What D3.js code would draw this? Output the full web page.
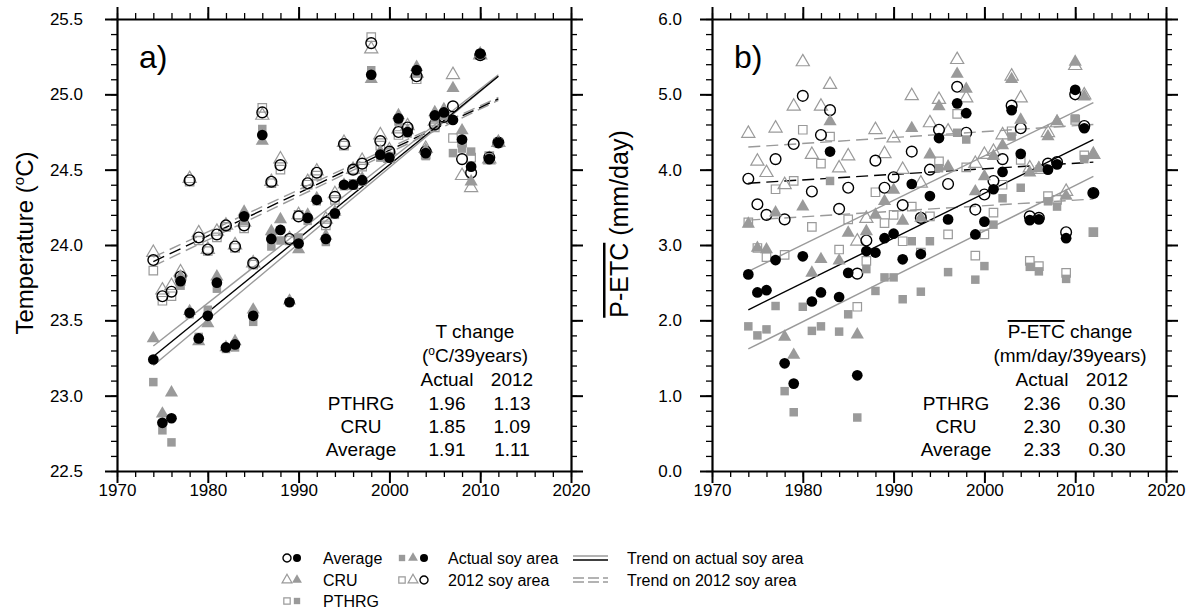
<!DOCTYPE html>
<html>
<head>
<meta charset="utf-8">
<script src="https://cdn.jsdelivr.net/npm/d3@7"></script>
<style>
  body { margin: 0; background: #fff; }
  svg text { font-family: "Liberation Sans", Arial, Helvetica, sans-serif; fill: #000; }
</style>
</head>
<body>
<div id="chart"></div>
<script>
// Jahre 1974-2012
const years = [1974, 1975, 1976, 1977, 1978, 1979, 1980, 1981, 1982, 1983, 1984, 1985, 1986,
  1987, 1988, 1989, 1990, 1991, 1992, 1993, 1994, 1995, 1996, 1997, 1998, 1999,
  2000, 2001, 2002, 2003, 2004, 2005, 2006, 2007, 2008, 2009, 2010, 2011, 2012];

// a) Temperatur (°C)
const tAvgActual = [23.24, 22.82, 22.85, 23.76, 23.55, 23.38, 23.53, 23.75, 23.32, 23.34, 24.19, 23.53, 24.73,
  24.04, 24.10, 23.62, 24.01, 24.18, 24.30, 24.04, 24.21, 24.40, 24.40, 24.43, 25.13, 24.60,
  24.58, 24.84, 24.75, 25.16, 24.61, 24.86, 24.88, 24.83, 24.70, 24.52, 25.27, 24.57, 24.68];
const tAvg2012 = [23.90, 23.66, 23.69, 23.79, 24.43, 24.05, 23.97, 24.07, 24.13, 23.99, 24.13, 23.88, 24.88,
  24.42, 24.53, 24.04, 24.19, 24.41, 24.48, 24.15, 24.32, 24.67, 24.50, 24.54, 25.34, 24.69,
  24.62, 24.75, 24.78, 25.12, 24.62, 24.80, 24.85, 24.92, 24.57, 24.48, 25.26, 24.58, 24.68];
const tCruActual = [23.38, 22.88, 23.02, 23.79, 23.56, 23.36, 23.48, 23.79, 23.32, 23.36, 24.22, 23.57, 24.69,
  24.09, 24.17, 23.63, 23.97, 24.20, 24.31, 24.06, 24.22, 24.40, 24.39, 24.44, 25.10, 24.62,
  24.57, 24.86, 24.76, 25.18, 24.63, 24.88, 24.90, 25.04, 24.76, 24.42, 25.27, 24.56, 24.68];
const tCru2012 = [23.95, 23.70, 23.73, 23.82, 24.44, 24.08, 23.97, 24.09, 24.13, 24.00, 24.15, 23.88, 24.86,
  24.42, 24.57, 24.04, 24.20, 24.42, 24.49, 24.17, 24.34, 24.68, 24.50, 24.56, 25.30, 24.73,
  24.63, 24.77, 24.79, 25.14, 24.64, 24.82, 24.86, 25.13, 24.46, 24.38, 25.26, 24.57, 24.68];
const tPtActual = [23.09, 22.77, 22.69, 23.73, 23.54, 23.39, 23.57, 23.71, 23.31, 23.32, 24.16, 23.49, 24.77,
  23.99, 24.03, 23.62, 24.05, 24.16, 24.29, 24.02, 24.20, 24.39, 24.41, 24.42, 25.16, 24.58,
  24.59, 24.82, 24.74, 25.14, 24.59, 24.84, 24.86, 24.61, 24.64, 24.62, 25.27, 24.58, 24.68];
const tPt2012 = [23.83, 23.63, 23.66, 23.76, 24.42, 24.03, 23.96, 24.05, 24.12, 23.98, 24.11, 23.87, 24.91,
  24.41, 24.50, 24.03, 24.20, 24.40, 24.46, 24.13, 24.30, 24.66, 24.50, 24.52, 25.38, 24.66,
  24.61, 24.73, 24.77, 25.10, 24.60, 24.78, 24.84, 24.71, 24.68, 24.58, 25.26, 24.59, 24.68];

// b) P-ETC (mm/day)
const pAvgActual = [2.61, 2.37, 2.40, 2.80, 1.43, 1.16, 2.85, 2.25, 2.37, 4.24, 2.31, 2.63, 1.27,
  2.92, 2.90, 3.09, 3.15, 2.81, 3.81, 2.88, 3.65, 4.42, 3.34, 4.88, 4.75, 3.14,
  3.31, 3.74, 3.97, 4.79, 4.21, 3.33, 3.34, 4.00, 4.07, 3.09, 5.06, 4.55, 3.69];
const pAvg2012 = [3.88, 3.54, 3.40, 4.14, 3.34, 4.34, 4.98, 3.71, 4.46, 4.79, 3.48, 3.76, 2.62,
  3.06, 4.12, 3.76, 3.90, 3.53, 4.24, 3.36, 4.00, 4.53, 3.81, 5.10, 4.49, 3.47,
  3.67, 3.85, 4.14, 4.85, 4.55, 3.38, 3.36, 4.08, 4.10, 3.17, 5.00, 4.58, 3.69];
const pCruActual = [3.28, 2.96, 2.94, 3.43, 1.78, 1.54, 3.51, 2.63, 2.81, 4.64, 2.79, 3.16, 1.81,
  3.18, 3.40, 3.58, 3.73, 3.32, 4.55, 3.36, 4.20, 4.84, 4.04, 5.27, 5.07, 3.71,
  3.91, 4.18, 4.32, 5.20, 4.66, 3.96, 4.02, 4.44, 4.64, 3.65, 5.43, 4.97, 4.20];
const pCru2012 = [4.48, 4.11, 3.96, 4.55, 3.80, 4.84, 5.43, 4.20, 4.84, 5.13, 4.02, 4.18, 3.05,
  3.35, 4.53, 4.21, 4.42, 4.00, 4.98, 3.82, 4.62, 4.93, 4.51, 5.46, 4.95, 4.08,
  4.20, 4.24, 4.46, 5.24, 4.95, 4.02, 4.00, 4.49, 4.62, 3.71, 5.38, 4.99, 4.20];
const pPtActual = [1.92, 1.80, 1.88, 2.19, 1.06, 0.78, 2.18, 1.86, 1.92, 3.85, 1.85, 2.08, 0.71,
  2.68, 2.39, 2.57, 2.57, 2.28, 3.05, 2.38, 3.05, 4.02, 2.64, 4.49, 4.40, 2.54,
  2.72, 3.27, 3.62, 4.44, 3.76, 2.71, 2.65, 3.58, 3.51, 2.55, 4.68, 4.14, 3.17];
const pPt2012 = [3.30, 2.96, 2.84, 3.74, 2.87, 3.85, 4.53, 3.24, 4.08, 4.44, 2.94, 3.34, 2.18,
  2.79, 3.70, 3.29, 3.40, 3.05, 3.51, 2.90, 3.38, 4.11, 3.14, 4.74, 4.03, 2.86,
  3.14, 3.43, 3.80, 4.51, 4.13, 2.79, 2.72, 3.65, 3.60, 2.63, 4.66, 4.19, 3.17];

// Trendlinien: Werte bei 1974 und 2012, Reihenfolge CRU, PTHRG, Average
const trendYears = [1974, 2012];
const tTrendActual = [[23.33, 25.13], [23.20, 25.12], [23.26, 25.12]];
const tTrend2012 = [[23.92, 24.98], [23.86, 24.96], [23.89, 24.97]];
const pTrendActual = [[2.65, 4.89], [1.62, 3.91], [2.14, 4.40]];
const pTrend2012 = [[4.30, 4.60], [3.33, 3.61], [3.82, 4.10]];

// Tabellen
const tableRows = ["PTHRG", "CRU", "Average"];
const tChangeActual = ["1.96", "1.85", "1.91"];
const tChange2012 = ["1.13", "1.09", "1.11"];
const pChangeActual = ["2.36", "2.30", "2.33"];
const pChange2012 = ["0.30", "0.30", "0.30"];

const xTicks = [1970, 1980, 1990, 2000, 2010, 2020];
const tTicks = [22.5, 23.0, 23.5, 24.0, 24.5, 25.0, 25.5];
const pTicks = [0, 1, 2, 3, 4, 5, 6];

const GRAY = "#9a9a9a";
const width = 1204, height = 612;
const plotTop = 19, plotBottom = 471, panelW = 454;

const svg = d3.select("#chart").append("svg")
  .attr("width", width).attr("height", height);

function marker(g, kind, filled, color, x, y, scale) {
  const s = scale || 1;
  const types = { circle: d3.symbolCircle, tri: d3.symbolTriangle, sq: d3.symbolSquare };
  const sizes = { circle: 90, tri: 75, sq: 72 };
  g.append("path")
    .attr("d", d3.symbol().type(types[kind]).size(sizes[kind] * s * s)())
    .attr("transform", `translate(${x},${y})`)
    .attr("fill", filled ? color : "none")
    .attr("stroke", filled ? "none" : color)
    .attr("stroke-width", kind === "circle" ? 1.4 : 1.2);
}

function drawPanel(opt) {
  const g = svg.append("g");
  const x = d3.scaleLinear().domain([1970, 2020]).range([opt.left, opt.left + panelW]);
  const y = d3.scaleLinear().domain(opt.yDomain).range([plotBottom, plotTop]);

  // Achsen mit Haupt- und Nebenstrichen auf allen vier Seiten
  const xMinor = d3.range(1970, 2021, 2);
  const yMinor = d3.range(opt.yDomain[0], opt.yDomain[1] + 1e-9, opt.minor);
  const axes = [
    [d3.axisBottom, x, xTicks, xMinor, `translate(0,${plotBottom})`, d3.format("d"), 1],
    [d3.axisTop, x, xTicks, xMinor, `translate(0,${plotTop})`, null, 4],
    [d3.axisLeft, y, opt.yTicks, yMinor, `translate(${opt.left},0)`, d3.format(".1f"), opt.yPad],
    [d3.axisRight, y, opt.yTicks, yMinor, `translate(${opt.left + panelW},0)`, null, 4]
  ];
  axes.forEach(([fn, sc, major, minor, tr, fmt, pad]) => {
    g.append("g").attr("transform", tr)
      .call(fn(sc).tickValues(minor).tickSize(6).tickSizeOuter(0).tickFormat(""))
      .call(a => a.selectAll("line").attr("stroke-width", 1.3));
    const ax = g.append("g").attr("transform", tr)
      .call(fn(sc).tickValues(major).tickSize(12).tickSizeOuter(0).tickPadding(pad)
        .tickFormat(fmt ? fmt : ""));
    ax.select(".domain").attr("stroke-width", 2.2);
    ax.selectAll("line").attr("stroke-width", 2);
    ax.selectAll("text").style("font-size", "17px").attr("fill", "#000");
  });
  g.selectAll(".domain").attr("stroke", "#000");

  // Trendlinien
  const line = d3.line().x((d, i) => x(trendYears[i])).y(d => y(d));
  const trendColors = [GRAY, GRAY, "#000"];
  opt.trend2012.forEach((t, i) => {
    g.append("path").attr("d", line(t)).attr("fill", "none")
      .attr("stroke", trendColors[i]).attr("stroke-width", 1.4)
      .attr("stroke-dasharray", "12,6");
  });
  opt.trendActual.forEach((t, i) => {
    g.append("path").attr("d", line(t)).attr("fill", "none")
      .attr("stroke", trendColors[i]).attr("stroke-width", 1.4);
  });

  // Punkte
  const series = [
    [opt.pt2012, "sq", false, GRAY],
    [opt.cru2012, "tri", false, GRAY],
    [opt.avg2012, "circle", false, "#000"],
    [opt.ptActual, "sq", true, GRAY],
    [opt.cruActual, "tri", true, GRAY],
    [opt.avgActual, "circle", true, "#000"]
  ];
  series.forEach(([vals, kind, filled, color]) => {
    vals.forEach((v, i) => marker(g, kind, filled, color, x(years[i]), y(v)));
  });

  // Panelbuchstabe
  g.append("text").attr("x", opt.left + 22).attr("y", 68)
    .style("font-size", "32px").text(opt.letter);

  // Achsentitel
  const yt = g.append("text")
    .attr("transform", `translate(${opt.left - 84},${opt.titleY}) rotate(-90)`)
    .attr("text-anchor", "middle").style("font-size", opt.titleSize);
  opt.title(yt);

  // Tabelle
  const cLab = opt.left + 244, cAct = opt.left + 330, c12 = opt.left + 395, cHead = opt.left + 358;
  const head = g.append("text").attr("x", cHead).attr("y", 338)
    .attr("text-anchor", "middle").style("font-size", "19px");
  opt.head(head);
  const unit = g.append("text").attr("x", cHead).attr("y", 362)
    .attr("text-anchor", "middle").style("font-size", "19px");
  opt.unit(unit);
  [["Actual", cAct], ["2012", c12]].forEach(([t, cx]) => {
    g.append("text").attr("x", cx).attr("y", 386).attr("text-anchor", "middle")
      .style("font-size", "19px").text(t);
  });
  tableRows.forEach((r, i) => {
    const yy = 410 + i * 23;
    g.append("text").attr("x", cLab).attr("y", yy).attr("text-anchor", "middle")
      .style("font-size", "19px").text(r);
    g.append("text").attr("x", cAct).attr("y", yy).attr("text-anchor", "middle")
      .style("font-size", "19px").text(opt.changeActual[i]);
    g.append("text").attr("x", c12).attr("y", yy).attr("text-anchor", "middle")
      .style("font-size", "19px").text(opt.change2012[i]);
  });
}

function overlined(textSel, str) {
  textSel.append("tspan").style("text-decoration", "overline").text(str);
}

drawPanel({
  left: 117, letter: "a)", yDomain: [22.5, 25.5], yTicks: tTicks, minor: 0.1, yPad: 22,
  avgActual: tAvgActual, avg2012: tAvg2012, cruActual: tCruActual, cru2012: tCru2012,
  ptActual: tPtActual, pt2012: tPt2012,
  trendActual: tTrendActual, trend2012: tTrend2012,
  changeActual: tChangeActual, change2012: tChange2012,
  titleY: 243, titleSize: "24px",
  title: t => {
    t.append("tspan").text("Temperature (");
    t.append("tspan").attr("dy", -9).style("font-size", "15px").text("o");
    t.append("tspan").attr("dy", 9).text("C)");
  },
  head: t => t.text("T change"),
  unit: t => {
    t.append("tspan").text("(");
    t.append("tspan").attr("dy", -7).style("font-size", "12px").text("o");
    t.append("tspan").attr("dy", 7).text("C/39years)");
  }
});

drawPanel({
  left: 712, letter: "b)", yDomain: [0, 6], yTicks: pTicks, minor: 0.2, yPad: 18,
  avgActual: pAvgActual, avg2012: pAvg2012, cruActual: pCruActual, cru2012: pCru2012,
  ptActual: pPtActual, pt2012: pPt2012,
  trendActual: pTrendActual, trend2012: pTrend2012,
  changeActual: pChangeActual, change2012: pChange2012,
  titleY: 224, titleSize: "25px",
  title: t => { overlined(t, "P-ETC"); t.append("tspan").text(" (mm/day)"); },
  head: t => { overlined(t, "P-ETC"); t.append("tspan").text(" change"); },
  unit: t => t.text("(mm/day/39years)")
});

// Legende
const leg = svg.append("g");
const r1 = 558, r2 = 580, r3 = 601;
const lfs = "16px";
marker(leg, "circle", false, "#000", 287, r1, 0.75);
marker(leg, "circle", true, "#000", 297, r1, 0.75);
marker(leg, "tri", false, GRAY, 287, r2, 0.75);
marker(leg, "tri", true, GRAY, 297, r2, 0.75);
marker(leg, "sq", false, GRAY, 287, r3, 0.75);
marker(leg, "sq", true, GRAY, 297, r3, 0.75);
marker(leg, "sq", true, GRAY, 402, r1, 0.75);
marker(leg, "tri", true, GRAY, 413, r1, 0.75);
marker(leg, "circle", true, "#000", 424, r1, 0.75);
marker(leg, "sq", false, GRAY, 402, r2, 0.75);
marker(leg, "tri", false, GRAY, 413, r2, 0.75);
marker(leg, "circle", false, "#000", 424, r2, 0.75);
[["Average", 323, r1], ["CRU", 323, r2], ["PTHRG", 323, r3],
 ["Actual soy area", 448, r1], ["2012 soy area", 448, r2],
 ["Trend on actual soy area", 627, r1], ["Trend on 2012 soy area", 627, r2]]
  .forEach(([t, x, y]) => {
    leg.append("text").attr("x", x).attr("y", y + 6).style("font-size", lfs).text(t);
  });
[[r1 - 2, GRAY, null], [r1 + 2, "#000", null], [r2 - 2, GRAY, "11,4"], [r2 + 2, GRAY, "11,4"]]
  .forEach(([yy, c, dash]) => {
    leg.append("line").attr("x1", 573).attr("x2", 608).attr("y1", yy).attr("y2", yy)
      .attr("stroke", c).attr("stroke-width", 1.4).attr("stroke-dasharray", dash);
  });
</script>
</body>
</html>
